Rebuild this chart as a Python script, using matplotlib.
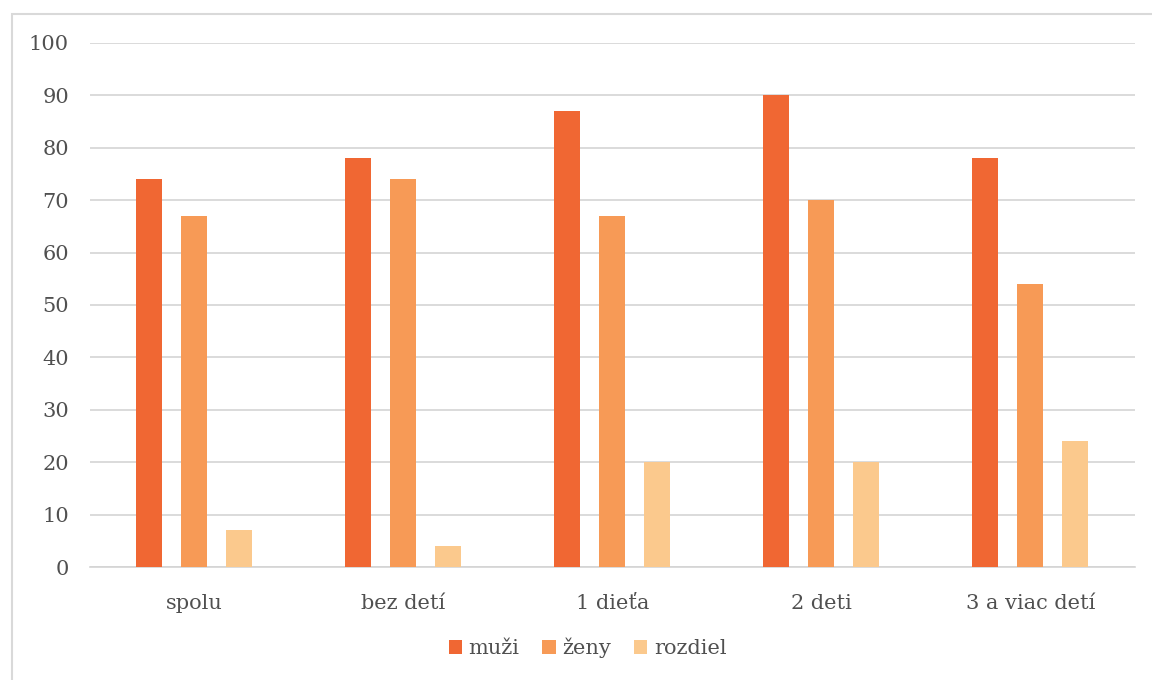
import numpy as np
import matplotlib
matplotlib.use("Agg")
import matplotlib.pyplot as plt
from matplotlib.patches import Rectangle

kategorie = ['spolu', 'bez detí', '1 dieťa', '2 deti', '3 a viac detí']
muzi = [74, 78, 87, 90, 78]
zeny = [67, 74, 67, 70, 54]
rozdiel = [7, 4, 20, 20, 24]
yticks = list(range(0, 101, 10))

plt.rcParams['font.family'] = ['DejaVu Serif']
text_col = '#505050'

fig = plt.figure(figsize=(11.52, 6.8), dpi=100)
ax = fig.add_axes([0.078, 0.166, 0.907, 0.771])

x = np.arange(len(kategorie))
w = 0.124
off = 0.215
ax.bar(x - off, muzi, w, color='#F06733', label='muži', zorder=3)
ax.bar(x, zeny, w, color='#F79A56', label='ženy', zorder=3)
ax.bar(x + off, rozdiel, w, color='#FBC98D', label='rozdiel', zorder=3)

ax.set_xlim(-0.5, 4.5)
ax.set_ylim(0, 100)
ax.set_yticks(yticks)
ax.set_xticks(x)
ax.set_xticklabels(kategorie)
ax.grid(axis='y', color='#D4D4D4', linewidth=1.2, zorder=0)
ax.tick_params(axis='both', length=0, labelsize=15, labelcolor=text_col)
ax.tick_params(axis='y', pad=15)
ax.tick_params(axis='x', pad=19)
for s in ['top', 'right', 'left']:
    ax.spines[s].set_visible(False)
ax.spines['bottom'].set_color('#D4D4D4')
ax.spines['bottom'].set_linewidth(1.2)

leg = fig.legend(loc='center', bbox_to_anchor=(0.51, 0.047), ncol=3, frameon=False,
                 fontsize=15, handlelength=0.65, handleheight=0.65, handletextpad=0.3,
                 columnspacing=1.1)
for t in leg.get_texts():
    t.set_color(text_col)

# outer chart border
fig.patches.append(Rectangle((0.0104, -0.05), 1.05, 0.029 + 1.0, transform=fig.transFigure,
                             fill=False, edgecolor='#D9D9D9', linewidth=1.5))

fig.savefig('out.png', dpi=100)
